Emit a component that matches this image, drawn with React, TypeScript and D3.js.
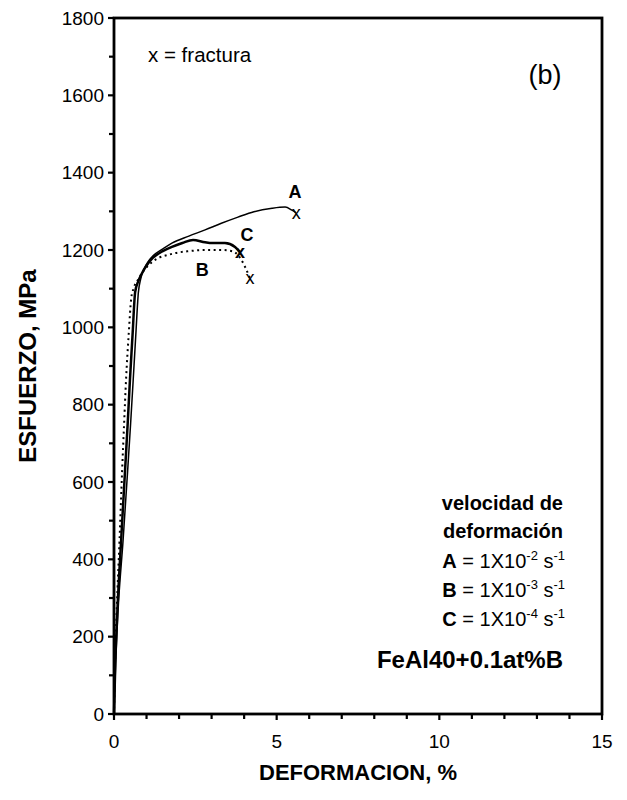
import React from "react";
import * as d3 from "d3";

// ---- data ----
const seriesA_x = [0, 0.05, 0.12, 0.28, 0.42, 0.51, 0.59, 0.67, 0.75, 0.82, 0.92, 1.05, 1.2, 1.5, 1.78, 2.3, 2.8, 3.3, 3.81, 4.3, 4.86, 5.26, 5.47, 5.6];
const seriesA_y = [0, 130, 260, 450, 630, 750, 864, 980, 1091, 1125, 1150, 1170, 1185, 1203, 1218, 1236, 1252, 1269, 1285, 1299, 1308, 1311, 1303, 1296];

const seriesB_x = [0, 0.03, 0.08, 0.17, 0.25, 0.31, 0.37, 0.45, 0.53, 0.6, 0.75, 0.9, 1.17, 1.78, 2.3, 2.8, 3.3, 3.63, 3.81, 4.03, 4.18];
const seriesB_y = [0, 130, 260, 450, 630, 750, 864, 980, 1075, 1100, 1125, 1145, 1169, 1190, 1197, 1200, 1200, 1197, 1187, 1156, 1127];

const seriesC_x = [0, 0.04, 0.1, 0.22, 0.34, 0.42, 0.49, 0.57, 0.65, 0.75, 0.86, 1.0, 1.2, 1.5, 1.78, 2.1, 2.43, 2.8, 3.01, 3.41, 3.72, 3.87];
const seriesC_y = [0, 130, 260, 450, 630, 750, 864, 980, 1091, 1120, 1140, 1160, 1180, 1197, 1208, 1218, 1226, 1220, 1218, 1218, 1208, 1195];

const fractureX = [5.6, 4.18, 3.87];
const fractureY = [1296, 1127, 1195];

const curveLabels = ["A", "B", "C"];
const curveLabelX = [5.56, 2.71, 4.09];
const curveLabelY = [1350, 1148, 1239];

const yTicks = [0, 200, 400, 600, 800, 1000, 1200, 1400, 1600, 1800];
const yMinor = [100, 300, 500, 700, 900, 1100, 1300, 1500, 1700];
const xTicks = [0, 5, 10, 15];
const xMinor = [1, 2, 3, 4, 6, 7, 8, 9, 11, 12, 13, 14];

const rateLabels = ["A", "B", "C"];
const rateExps = ["-2", "-3", "-4"];

const W = 627;
const H = 800;
const left = 114;
const right = 602;
const top = 18;
const bottom = 714;
const FONT = "'Liberation Sans', Arial, Helvetica, sans-serif";

export default function App() {
  const x = d3.scaleLinear().domain([0, 15]).range([left, right]);
  const y = d3.scaleLinear().domain([0, 1800]).range([bottom, top]);
  const line = d3
    .line<[number, number]>()
    .x((d) => x(d[0]))
    .y((d) => y(d[1]))
    .curve(d3.curveMonotoneX);
  const zip = (a: number[], b: number[]) => a.map((v, i) => [v, b[i]] as [number, number]);

  return (
    <svg width={W} height={H} style={{ position: "absolute", left: 0, top: 0, background: "#fff" }} fontFamily={FONT}>
      <rect x={0} y={0} width={W} height={H} fill="#fff" />
      {/* curves */}
      <path d={line(zip(seriesA_x, seriesA_y)) || ""} fill="none" stroke="#000" strokeWidth={1.5} />
      <path d={line(zip(seriesC_x, seriesC_y)) || ""} fill="none" stroke="#000" strokeWidth={2.5} />
      <path d={line(zip(seriesB_x, seriesB_y)) || ""} fill="none" stroke="#000" strokeWidth={2} strokeDasharray="2 3.5" />

      {/* fracture marks */}
      {fractureX.map((fx, i) => (
        <text key={"f" + i} x={x(fx)} y={y(fractureY[i])} textAnchor="middle" dominantBaseline="central" fontSize={18} fontWeight={i === 2 ? "bold" : "normal"}>
          x
        </text>
      ))}
      {curveLabels.map((l, i) => (
        <text key={"l" + i} x={x(curveLabelX[i])} y={y(curveLabelY[i])} textAnchor="middle" dominantBaseline="central" fontSize={18} fontWeight="bold">
          {l}
        </text>
      ))}

      {/* frame */}
      <rect x={left} y={top} width={right - left} height={bottom - top} fill="none" stroke="#000" strokeWidth={2.8} />

      {/* y ticks */}
      {yTicks.map((t) => (
        <g key={"yt" + t}>
          <line x1={left - 6} x2={left} y1={y(t)} y2={y(t)} stroke="#000" strokeWidth={2.2} />
          <text x={left - 10} y={y(t)} textAnchor="end" dominantBaseline="central" fontSize={19}>
            {t}
          </text>
        </g>
      ))}
      {yMinor.map((t) => (
        <line key={"ym" + t} x1={left - 5} x2={left} y1={y(t)} y2={y(t)} stroke="#000" strokeWidth={2.2} />
      ))}
      {/* x ticks */}
      {xTicks.map((t) => (
        <g key={"xt" + t}>
          <line x1={x(t)} x2={x(t)} y1={bottom} y2={bottom + 6} stroke="#000" strokeWidth={2.2} />
          <text x={x(t)} y={bottom + 34} textAnchor="middle" fontSize={19}>
            {t}
          </text>
        </g>
      ))}
      {xMinor.map((t) => (
        <line key={"xm" + t} x1={x(t)} x2={x(t)} y1={bottom} y2={bottom + 5} stroke="#000" strokeWidth={2.2} />
      ))}

      {/* axis titles */}
      <text x={(left + right) / 2} y={780} textAnchor="middle" fontSize={22} fontWeight="bold">
        DEFORMACION, %
      </text>
      <text transform={`translate(36, ${(top + bottom) / 2}) rotate(-90)`} textAnchor="middle" fontSize={24} fontWeight="bold">
        ESFUERZO, MPa
      </text>

      {/* annotations */}
      <text x={148} y={62} fontSize={20.5}>
        x = fractura
      </text>
      <text x={545} y={84} textAnchor="middle" fontSize={27}>
        (b)
      </text>

      <text x={563} y={510} textAnchor="end" fontSize={20} fontWeight="bold">
        velocidad de
      </text>
      <text x={563} y={538} textAnchor="end" fontSize={20} fontWeight="bold">
        deformación
      </text>
      {rateLabels.map((r, i) => (
        <text key={"r" + i} x={565} y={568 + i * 29} textAnchor="end" fontSize={20}>
          <tspan fontWeight="bold">{r}</tspan>
          <tspan>{" = 1X10"}</tspan>
          <tspan fontSize={13} dy={-8}>{rateExps[i]}</tspan>
          <tspan fontSize={20} dy={8}>{" s"}</tspan>
          <tspan fontSize={13} dy={-8}>{"-1"}</tspan>
        </text>
      ))}
      <text x={563} y={668} textAnchor="end" fontSize={24} fontWeight="bold">
        FeAl40+0.1at%B
      </text>
    </svg>
  );
}
